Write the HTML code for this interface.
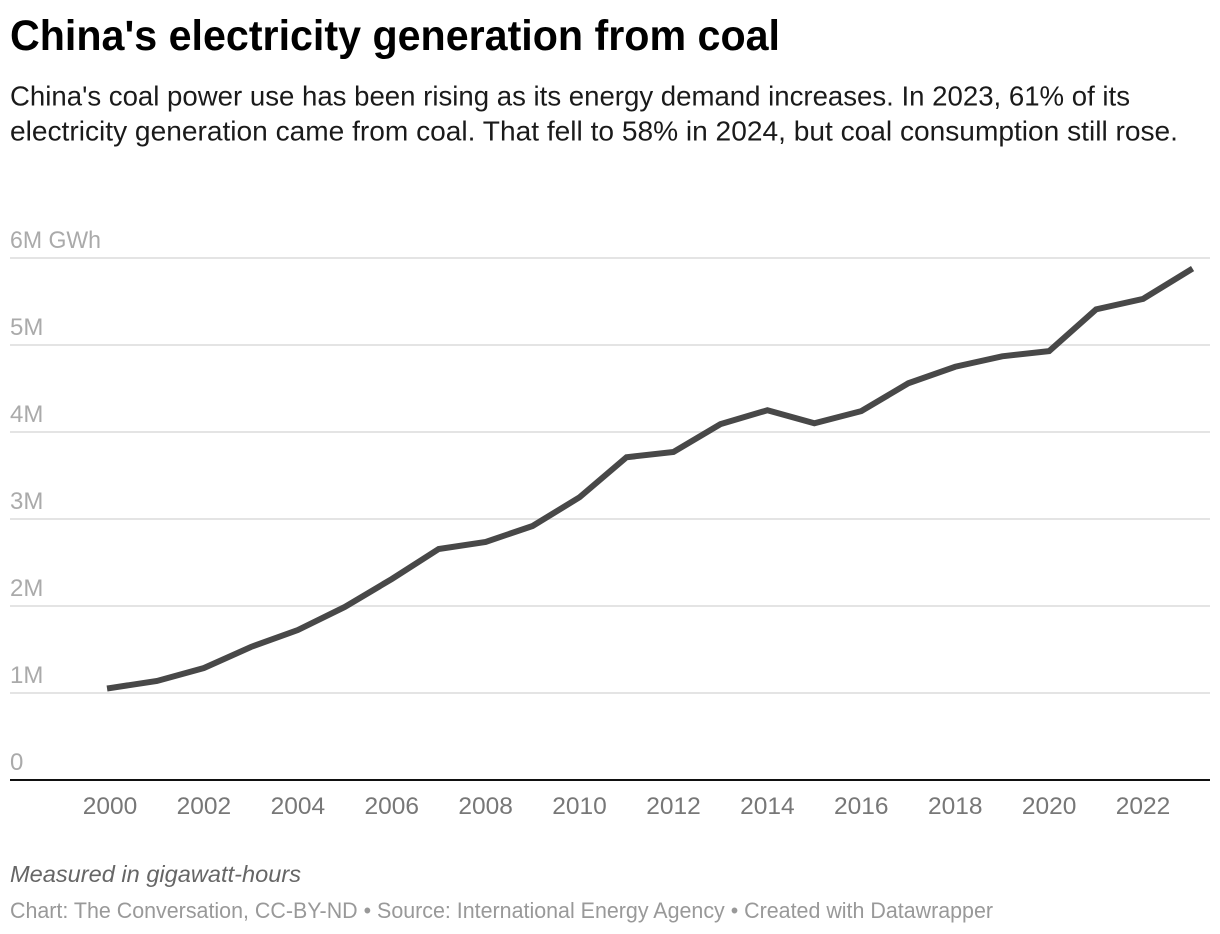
<!DOCTYPE html>
<html>
<head>
<meta charset="utf-8">
<title>China's electricity generation from coal</title>
<style>
html,body{margin:0;padding:0;background:#fff;}
svg{display:block;font-family:"Liberation Sans",sans-serif;}
</style>
</head>
<body>
<svg id="chart" width="1220" height="934" viewBox="0 0 1220 934" xmlns="http://www.w3.org/2000/svg">
<text x="10" y="50" font-size="43" font-weight="700" fill="#000" textLength="770" lengthAdjust="spacingAndGlyphs">China's electricity generation from coal</text>
<text x="10" y="105.5" font-size="28" fill="#1a1a1a" textLength="1120" lengthAdjust="spacingAndGlyphs">China's coal power use has been rising as its energy demand increases. In 2023, 61% of its</text>
<text x="10" y="140.5" font-size="28" fill="#1a1a1a" textLength="1168" lengthAdjust="spacingAndGlyphs">electricity generation came from coal. That fell to 58% in 2024, but coal consumption still rose.</text>
<g id="grid"></g>
<g id="ylabels"></g>
<g id="xlabels"></g>
<line x1="10" x2="1210" y1="780" y2="780" stroke="#111" stroke-width="2"/>
<path id="line" fill="none" stroke="#484848" stroke-width="6" stroke-linejoin="miter" stroke-linecap="square"/>
<text x="10" y="882" font-size="23" font-style="italic" fill="#666" textLength="291" lengthAdjust="spacingAndGlyphs">Measured in gigawatt-hours</text>
<text x="10" y="918" font-size="22" fill="#999" textLength="983" lengthAdjust="spacingAndGlyphs">Chart: The Conversation, CC-BY-ND • Source: International Energy Agency • Created with Datawrapper</text>
</svg>
<script>
var years = [2000,2001,2002,2003,2004,2005,2006,2007,2008,2009,2010,2011,2012,2013,2014,2015,2016,2017,2018,2019,2020,2021,2022,2023];
var coalGWh = [1.057,1.138,1.287,1.529,1.724,1.989,2.31,2.655,2.736,2.92,3.25,3.71,3.77,4.09,4.25,4.10,4.24,4.56,4.75,4.87,4.93,5.41,5.53,5.86];
var yTicks = [0,1,2,3,4,5,6];
var yTickLabels = ["0","1M","2M","3M","4M","5M","6M GWh"];
var xTicks = [2000,2002,2004,2006,2008,2010,2012,2014,2016,2018,2020,2022];

var NS = "http://www.w3.org/2000/svg";
function xScale(year){ return 110 + (year - 2000) * (1190 - 110) / 23; }
function yScale(v){ return 780 - v * 87; }

var grid = document.getElementById("grid");
var ylabels = document.getElementById("ylabels");
var xlabels = document.getElementById("xlabels");

yTicks.forEach(function(t, i){
  if (t !== 0) {
    var l = document.createElementNS(NS, "line");
    
    
    l.setAttribute("x1", 10);
    l.setAttribute("x2", 1210);
    l.setAttribute("y1", yScale(t));
    l.setAttribute("y2", yScale(t));
    l.setAttribute("stroke", "#e4e4e4");
    l.setAttribute("stroke-width", 2);
    grid.appendChild(l);
  }
  var txt = document.createElementNS(NS, "text");
  
  
  txt.setAttribute("x", 10);
  txt.setAttribute("y", yScale(t) - 10);
  txt.setAttribute("font-size", 24);
  txt.setAttribute("fill", "#aaa");
  txt.textContent = yTickLabels[i];
  if (yTickLabels[i].length > 4) {
    txt.setAttribute("textLength", 91);
    txt.setAttribute("lengthAdjust", "spacingAndGlyphs");
  }
  ylabels.appendChild(txt);
});

xTicks.forEach(function(t){
  var txt = document.createElementNS(NS, "text");
  
  
  txt.setAttribute("x", xScale(t));
  txt.setAttribute("y", 814);
  txt.setAttribute("font-size", 24.5);
  txt.setAttribute("fill", "#777");
  txt.setAttribute("text-anchor", "middle");
  txt.textContent = t;
  xlabels.appendChild(txt);
});

var d = years.map(function(y, i){
  return (i ? "L" : "M") + xScale(y).toFixed(2) + " " + yScale(coalGWh[i]).toFixed(2);
}).join(" ");
document.getElementById("line").setAttribute("d", d);
</script>
</body>
</html>
